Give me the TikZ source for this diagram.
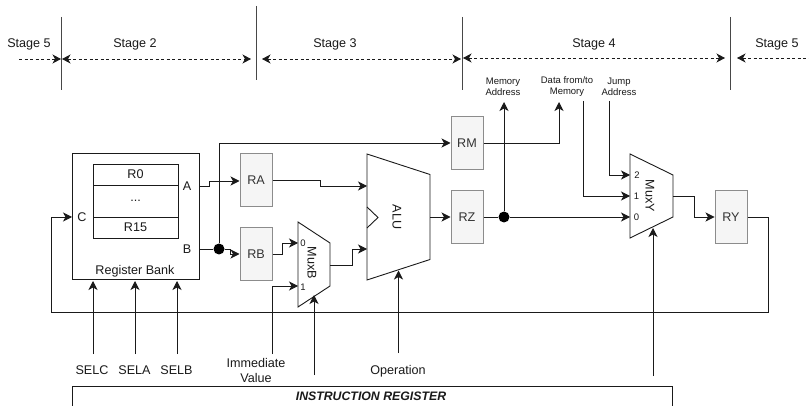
\documentclass[tikz,border=0pt]{standalone}
\usepackage{fontspec}
\setmainfont{Liberation Sans}
\usetikzlibrary{arrows.meta}
\definecolor{ink}{HTML}{1A1A1A}
\definecolor{regfill}{HTML}{F5F5F5}
\definecolor{regline}{HTML}{8C8C8C}
\definecolor{regtext}{HTML}{333333}
\tikzset{
  x=1pt,y=-1pt,
  wire/.style={draw=ink,line width=0.9pt,-{Stealth[length=9pt,width=9pt,inset=2.5pt]}},
  plain/.style={draw=ink,line width=0.9pt},
  stagearrow/.style={draw=ink,line width=0.9pt,dash pattern=on 3pt off 2.5pt,{Stealth[length=8.5pt,width=9pt,inset=2.5pt]}-{Stealth[length=8.5pt,width=9pt,inset=2.5pt]}},
  stageend/.style={draw=ink,line width=0.9pt,dash pattern=on 3pt off 2.5pt},
  divider/.style={draw=ink!80,line width=1pt},
  txt/.style={inner sep=0pt,font=\fontsize{12.6pt}{15pt}\selectfont,text=ink,align=center},
  small/.style={inner sep=0pt,font=\fontsize{9.5pt}{11pt}\selectfont,text=ink,align=center},
  reg/.style={draw=regline,fill=regfill,line width=1pt,minimum width=32pt,minimum height=53pt,inner sep=0pt,text=regtext,font=\fontsize{12.6pt}{15pt}\selectfont},
  cell/.style={draw=ink,line width=0.9pt,minimum width=85pt,inner sep=0pt,font=\fontsize{12.6pt}{15pt}\selectfont,text=ink},
  junction/.style={circle,fill=black,inner sep=0pt,minimum size=11pt},
  trap/.style={draw=ink,line width=0.9pt,fill=white,line join=miter},
}
\begin{document}
\begin{tikzpicture}
\useasboundingbox (0,0) rectangle (809,406);
\fill[white] (0,0) rectangle (809,406);
% stage dividers
\coordinate (d1a) at (61,17); \coordinate (d1b) at (61,90);
\coordinate (d2a) at (256,6); \coordinate (d2b) at (256,80);
\coordinate (d3a) at (462,17); \coordinate (d3b) at (462,90);
\coordinate (d4a) at (730,17); \coordinate (d4b) at (730,90);
\draw[divider] (d1a) -- (d1b);
\draw[divider] (d2a) -- (d2b);
\draw[divider] (d3a) -- (d3b);
\draw[divider] (d4a) -- (d4b);
% stage arrows
\coordinate (s5a) at (19,59); \coordinate (s5b) at (61,59);
\coordinate (s2a) at (62,59); \coordinate (s2b) at (251,59);
\coordinate (s3a) at (262,59); \coordinate (s3b) at (461,59);
\coordinate (s4a) at (463,58); \coordinate (s4b) at (725,58);
\coordinate (s6a) at (737,58); \coordinate (s6b) at (809,58);
\draw[stageend,-{Stealth[length=8.5pt,width=9pt,inset=2.5pt]}] (s5a) -- (s5b);
\draw[stagearrow] (s2a) -- (s2b);
\draw[stagearrow] (s3a) -- (s3b);
\draw[stagearrow] (s4a) -- (s4b);
\draw[stageend,{Stealth[length=8.5pt,width=9pt,inset=2.5pt]}-] (s6a) -- (s6b);
\node[txt] (t5a) at (29,44) {Stage 5};
\node[txt] (t2) at (135,44) {Stage 2};
\node[txt] (t3) at (335,44) {Stage 3};
\node[txt] (t4) at (594,44) {Stage 4};
\node[txt] (t5b) at (777,44) {Stage 5};
\node[small] (tmem) at (503,86.5) {Memory\\Address};
\node[small] (tdata) at (567,86.5) {Data from/to\\Memory};
\node[small] (tjump) at (619,86.5) {Jump\\Address};
% register bank
\node[draw=ink,line width=1pt,minimum width=127pt,minimum height=126pt,inner sep=0pt] (bank) at (135.5,217) {};
\node[cell,minimum height=21pt] (r0) at (135.5,174.5) {R0};
\node[cell,minimum height=32pt] (rdots) at (135.5,201) {...};
\node[cell,minimum height=21pt] (r15) at (135.5,227.5) {R15};
\node[txt] (lA) at (187,186) {A};
\node[txt] (lB) at (187,249) {B};
\node[txt] (lC) at (82,217) {C};
\node[txt] (lbank) at (135,271) {Register Bank};
% registers
\node[reg] (RA) at (256,180.5) {RA};
\node[reg] (RB) at (256,254) {RB};
\node[reg] (RM) at (467,143.5) {RM};
\node[reg] (RZ) at (467,217.5) {RZ};
\node[reg] (RY) at (731,217.5) {RY};
% ALU
\coordinate (alutl) at (367,154); \coordinate (alutr) at (430,174.5);
\coordinate (alubr) at (430,259.5); \coordinate (alubl) at (367,280);
\draw[trap] (alutl) -- (alutr) -- (alubr) -- (alubl) -- cycle;
\coordinate (n1) at (367,207); \coordinate (n2) at (378,217.5); \coordinate (n3) at (367,228);
\draw[plain,line join=miter] (n1) -- (n2) -- (n3);
\node[txt,rotate=-90] (alutxt) at (397,217) {ALU};
% MuxB
\coordinate (mbtl) at (298,222); \coordinate (mbtr) at (330,243);
\coordinate (mbbr) at (330,286); \coordinate (mbbl) at (298,307);
\draw[trap] (mbtl) -- (mbtr) -- (mbbr) -- (mbbl) -- cycle;
\node[small] (mb0) at (303,243) {0};
\node[small] (mb1) at (303,287) {1};
\node[txt,rotate=-90] (mbtxt) at (312,263) {MuxB};
% MuxY
\coordinate (mytl) at (630,154); \coordinate (mytr) at (673,175);
\coordinate (mybr) at (673,217); \coordinate (mybl) at (630,238);
\draw[trap] (mytl) -- (mytr) -- (mybr) -- (mybl) -- cycle;
\node[small] (my2) at (637,175.5) {2};
\node[small] (my1) at (636.5,196) {1};
\node[small] (my0) at (636.5,217.5) {0};
\node[txt,rotate=-90] (mytxt) at (650,196) {MuxY};
% junctions
\node[junction] (j1) at (219,249) {};
\node[junction] (j2) at (504,217) {};
% wires
\coordinate (aout) at (199,186);
\draw[wire] (aout) -- (209,186) -- (209,181) -- (RA.west |- 0,181);
\coordinate (bout) at (199,249);
\draw[plain] (bout) -- (j1);
\draw[wire] (j1) -- (230,249) -- (230,254) -- (RB.west);
\draw[wire] (j1) -- (219,143) -- (RM.west |- 0,143);
\draw[plain] (RA.east |- 0,180) -- (320,180) -- (320,186);
\coordinate (aluA) at (367,186);
\draw[wire] (320,186) -- (aluA);
\coordinate (mb0in) at (298,243);
\draw[wire] (RB.east) -- (282,254) -- (282,243) -- (mb0in);
\coordinate (aluB) at (367,249);
\draw[wire] (330,265) -- (352,265) -- (352,249) -- (aluB);
\draw[wire] (430,217) -- (RZ.west |- 0,217);
\draw[plain] (RZ.east |- 0,217) -- (j2);
\coordinate (my0in) at (630,217);
\draw[wire] (j2) -- (my0in);
\coordinate (memtip) at (504,102);
\draw[wire] (j2) -- (memtip);
\coordinate (datatip) at (559,102);
\draw[wire] (RM.east |- 0,143) -- (559,143) -- (datatip);
\coordinate (dfrom) at (583,101); \coordinate (my1in) at (630,196);
\draw[wire] (dfrom) -- (583,196) -- (my1in);
\coordinate (jfrom) at (609,101); \coordinate (my2in) at (630,175);
\draw[wire] (jfrom) -- (609,175) -- (my2in);
\draw[wire] (673,196) -- (694,196) -- (694,217) -- (RY.west |- 0,217);
% feedback
\coordinate (cin) at (72,217);
\draw[wire] (RY.east |- 0,217) -- (768,217) -- (768,312) -- (51,312) -- (51,217) -- (cin);
% control inputs
\node[txt] (selc) at (92,370) {SELC};
\node[txt] (sela) at (134.5,370) {SELA};
\node[txt] (selb) at (176.5,370) {SELB};
\node[txt] (imm) at (256,370.5) {Immediate\\Value};
\node[txt] (oper) at (398,371) {Operation};
\draw[wire] (93,354) -- (93,281);
\draw[wire] (135,354) -- (135,281);
\draw[wire] (177,354) -- (177,281);
\coordinate (immfrom) at (272,354); \coordinate (mb1in) at (298,286);
\draw[wire] (immfrom) -- (272,286) -- (mb1in);
\coordinate (mbsfrom) at (314,375); \coordinate (mbsel) at (314,295);
\draw[wire] (mbsfrom) -- (mbsel);
\coordinate (opfrom) at (398.5,353); \coordinate (opto) at (398.5,270.5);
\draw[wire] (opfrom) -- (opto);
\coordinate (mysfrom) at (653,376); \coordinate (mysel) at (653,228);
\draw[wire] (mysfrom) -- (mysel);
% instruction register
\coordinate (irl) at (72,406); \coordinate (irtl) at (72,386);
\coordinate (irtr) at (672,386); \coordinate (irr) at (672,406);
\draw[draw=ink,line width=1pt] (irl) -- (irtl) -- (irtr) -- (irr);
\node[inner sep=0pt,font=\fontsize{12.3pt}{14pt}\selectfont\bfseries\itshape,text=ink] (irtxt) at (371,396.5) {INSTRUCTION REGISTER};
\end{tikzpicture}
\end{document}
